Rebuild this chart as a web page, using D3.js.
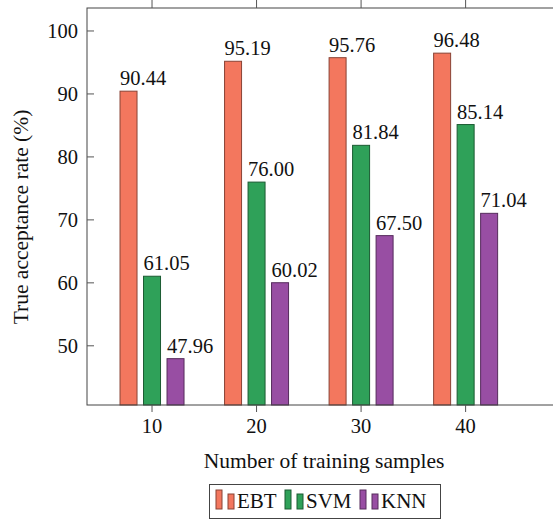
<!DOCTYPE html>
<html>
<head>
<meta charset="utf-8">
<script src="https://cdn.jsdelivr.net/npm/d3@7"></script>
<style>
  html, body { margin: 0; padding: 0; background: #fff; }
  svg { display: block; }
  text { font-family: "Liberation Serif", "DejaVu Serif", serif; fill: #111; }
</style>
</head>
<body>
<svg id="chart" width="553" height="520"></svg>
<script>
// Training sample counts (x categories)
const samples = [10, 20, 30, 40];
// True acceptance rate (%) per method
const seriesNames = ["EBT", "SVM", "KNN"];
const ebt = [90.44, 95.19, 95.76, 96.48];
const svm = [61.05, 76.00, 81.84, 85.14];
const knn = [47.96, 60.02, 67.50, 71.04];
const yTicks = [50, 60, 70, 80, 90, 100];
const seriesColors = ["#f3775e", "#2fa159", "#984ea3"];

const seriesValues = [ebt, svm, knn];
const serif = "Liberation Serif, DejaVu Serif, serif";

const svg = d3.select("#chart");
const plot = { left: 87, right: 555, top: 8, bottom: 405 };

const x = d3.scaleLinear().domain([3.78, 48.55]).range([plot.left, plot.right]);
const y = d3.scaleLinear().domain([40.6, 103.65]).range([plot.bottom, plot.top]);

const barW = 17;
const barStep = 23.5;

const g = svg.append("g");

// bars
seriesValues.forEach((vals, si) => {
  const col = seriesColors[si];
  const off = (si - 1) * barStep;
  g.selectAll(null)
    .data(vals.map((v, i) => ({ v, s: samples[i] })))
    .enter().append("rect")
    .attr("x", d => x(d.s) + off - barW / 2)
    .attr("y", d => y(d.v))
    .attr("width", barW)
    .attr("height", d => y(40.6) - y(d.v))
    .attr("fill", col)
    .attr("stroke", d3.color(col).darker(1.6))
    .attr("stroke-width", 1);

  // value labels
  g.selectAll(null)
    .data(vals.map((v, i) => ({ v, s: samples[i] })))
    .enter().append("text")
    .attr("x", d => x(d.s) + off - barW / 2)
    .attr("y", d => y(d.v) - 6)
    .attr("font-family", serif)
    .attr("font-size", 20.5)
    .attr("text-anchor", "start")
    .text(d => d.v.toFixed(2));
});

// frame
svg.append("rect")
  .attr("x", plot.left).attr("y", plot.top)
  .attr("width", plot.right - plot.left).attr("height", plot.bottom - plot.top)
  .attr("fill", "none").attr("stroke", "#444").attr("stroke-width", 1);

// x ticks: outward at bottom and top
const xt = svg.append("g");
samples.forEach(s => {
  xt.append("line").attr("x1", x(s)).attr("x2", x(s))
    .attr("y1", plot.bottom).attr("y2", plot.bottom + 7)
    .attr("stroke", "#555");
  xt.append("line").attr("x1", x(s)).attr("x2", x(s))
    .attr("y1", plot.top).attr("y2", plot.top - 9)
    .attr("stroke", "#555");
  xt.append("text").attr("x", x(s)).attr("y", 433)
    .attr("text-anchor", "middle").attr("font-family", serif)
    .attr("font-size", 20.5).text(s);
});

// y ticks: inward on the left
const yt = svg.append("g");
yTicks.forEach(t => {
  yt.append("line").attr("x1", plot.left).attr("x2", plot.left + 7)
    .attr("y1", y(t)).attr("y2", y(t)).attr("stroke", "#555");
  yt.append("text").attr("x", 78).attr("y", y(t) + 7)
    .attr("text-anchor", "end").attr("font-family", serif)
    .attr("font-size", 20.5).text(t);
});

// axis titles
svg.append("text").attr("x", 324).attr("y", 468)
  .attr("text-anchor", "middle").attr("font-family", serif).attr("font-size", 21.5)
  .text("Number of training samples");
svg.append("text")
  .attr("transform", "translate(28,217) rotate(-90)")
  .attr("text-anchor", "middle").attr("font-family", serif).attr("font-size", 21.5)
  .text("True acceptance rate (%)");

// legend
const lg = svg.append("g");
lg.append("rect").attr("x", 209.5).attr("y", 484.5).attr("width", 231).attr("height", 34)
  .attr("fill", "#fff").attr("stroke", "#444").attr("stroke-width", 1);
const legX = [216, 285, 360];
seriesNames.forEach((name, i) => {
  const col = seriesColors[i];
  const stroke = d3.color(col).darker(1.6);
  lg.append("rect").attr("x", legX[i]).attr("y", 490).attr("width", 6).attr("height", 19)
    .attr("fill", col).attr("stroke", stroke);
  lg.append("rect").attr("x", legX[i] + 12).attr("y", 494).attr("width", 6).attr("height", 15)
    .attr("fill", col).attr("stroke", stroke);
  lg.append("text").attr("x", legX[i] + 21).attr("y", 508)
    .attr("font-family", serif).attr("font-size", 21).text(name);
});
</script>
</body>
</html>
